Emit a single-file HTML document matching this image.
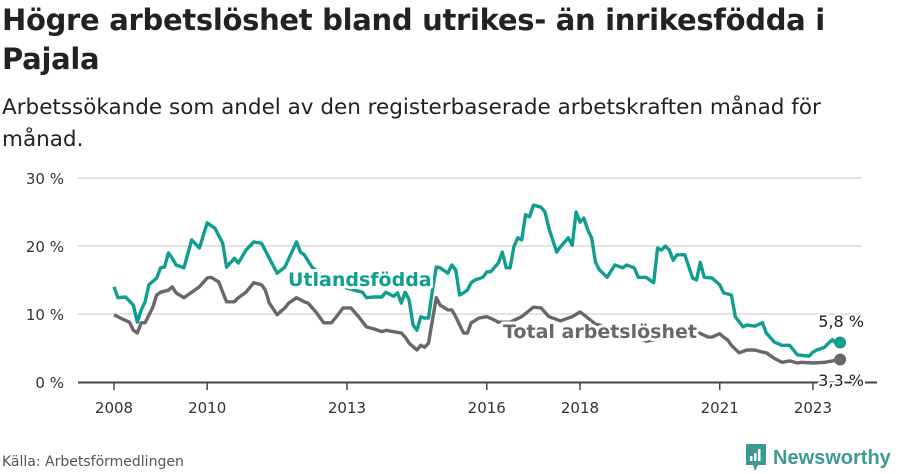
<!DOCTYPE html>
<html><head><meta charset="utf-8">
<style>
body{margin:0;width:900px;height:474px;background:#fff;overflow:hidden;font-family:"DejaVu Sans","Liberation Sans",sans-serif;color:#222}
.title{position:absolute;left:2px;top:1px;font-size:29px;font-weight:bold;line-height:39px;letter-spacing:-0.3px;width:860px}
.sub{position:absolute;left:2px;top:92px;font-size:21.5px;line-height:32px;width:835px;color:#222}
.src{position:absolute;left:2px;top:454px;font-size:14px;color:#555}
.logo{position:absolute;left:745px;top:443px;display:flex;align-items:center}
.logo span{font-size:20px;font-weight:bold;color:#3d9a93;margin-left:6px;font-family:"Liberation Sans",sans-serif}
svg{position:absolute;left:0;top:0}
</style></head><body>
<div class="title">Högre arbetslöshet bland utrikes- än inrikesfödda i Pajala</div>
<div class="sub">Arbetssökande som andel av den registerbaserade arbetskraften månad för månad.</div>
<svg id="chart" width="900" height="474"></svg>
<div class="src">Källa: Arbetsförmedlingen</div>
<div class="logo">
<svg width="22" height="30" style="position:static"><path d="M1 1h20v21h-8l-3 6-2-6H1z" fill="#3d9a93"/><rect x="5" y="13" width="2.5" height="5" fill="#fff"/><rect x="9" y="10" width="2.5" height="8" fill="#fff"/><rect x="13" y="6" width="2.5" height="12" fill="#fff"/></svg>
<span>Newsworthy</span></div>
<script>
const yTicks=[0,10,20,30];
const yTickLabels=["0 %","10 %","20 %","30 %"];
const xTickYears=[2008,2010,2013,2016,2018,2021,2023];
const foreignMonths=[0,1,3,5,6,7,8,9,11,12,13,14,15,16,18,20,22,24,26,28,29,31,32,34,36,38,40,42,44,47,48,49,51,54,57,60,64,65,67,69,70,72,73,74,75,76,77,78,79,80,81,82,83,84,86,87,88,89,90,91,92,93,95,96,97,99,100,101,102,103,104,105,106,107,108,110,111,112,114,115,117,118,119,120,121,122,123,124,125,127,129,131,132,134,135,137,139,140,141,142,143,144,145,147,149,150,151,152,154,156,157,159,160,162,163,165,167,168,170,172,174,176,179,180,181,183,184,185,186,187];
const foreignValues=[14.0,12.4,12.5,11.3,8.8,10.6,11.8,14.3,15.3,16.8,16.9,19.0,18.2,17.2,16.8,20.9,19.7,23.4,22.6,20.4,16.9,18.2,17.5,19.4,20.6,20.4,18.2,16.0,16.9,20.6,19.1,18.7,16.9,15.5,14.5,13.8,13.2,12.4,12.5,12.5,13.2,12.6,13.1,11.6,13.2,12.1,8.4,7.6,9.6,9.4,9.4,13.5,16.9,16.8,16.0,17.2,16.5,12.8,13.1,13.5,14.6,15.0,15.4,16.2,16.2,17.5,19.1,16.8,16.8,19.9,21.2,20.9,24.6,24.3,26.0,25.7,25.0,22.6,19.1,19.9,21.2,20.1,25.0,23.5,24.1,22.4,21.2,17.6,16.5,15.4,17.2,16.8,17.2,16.8,15.4,15.4,14.6,19.7,19.4,20.0,19.4,17.9,18.7,18.7,15.3,15.0,17.6,15.4,15.3,14.3,13.1,12.8,9.6,8.1,8.4,8.2,8.7,7.2,5.9,5.4,5.4,4.0,3.8,4.4,4.7,5.1,5.7,6.2,5.7,5.8];
const totalMonths=[0,2,4,5,6,7,8,10,11,12,14,15,16,18,19,20,22,24,25,27,28,29,31,32,34,36,38,39,40,42,44,45,47,49,50,52,54,56,57,59,61,63,65,67,69,70,72,74,75,76,78,79,80,81,83,84,86,87,88,90,91,92,94,96,98,99,102,105,108,110,112,115,118,120,121,124,128,133,137,142,146,150,153,154,156,157,158,159,161,163,165,167,168,170,172,174,176,177,180,183,185,187];
const totalValues=[9.9,9.3,8.8,7.6,7.2,8.7,8.7,11.0,12.8,13.2,13.5,14.0,13.1,12.4,12.8,13.2,14.0,15.3,15.4,14.7,13.2,11.8,11.8,12.4,13.2,14.6,14.3,13.5,11.6,9.9,10.9,11.6,12.4,11.8,11.6,10.3,8.7,8.7,9.4,10.9,10.9,9.6,8.1,7.8,7.4,7.6,7.4,7.2,6.6,5.7,4.7,5.4,5.1,5.7,12.4,11.3,10.6,10.6,9.6,7.2,7.2,8.7,9.4,9.6,9.1,8.8,8.8,9.6,11.0,10.9,9.6,9.0,9.6,10.3,9.9,8.5,8.0,7.0,6.0,6.5,7.2,7.4,6.6,6.6,7.1,6.6,6.2,5.4,4.3,4.7,4.7,4.4,4.3,3.5,2.9,3.1,2.8,2.9,2.8,2.9,3.1,3.3];

const NS="http://www.w3.org/2000/svg";
const svg=document.getElementById('chart');
const x=m=>114+m*3.883;
const xYear=y=>x((y-2008)*12);
const y=v=>382-v*6.8;
function mk(tag,attrs,parent){const e=document.createElementNS(NS,tag);for(const k in attrs)e.setAttribute(k,attrs[k]);(parent||svg).appendChild(e);return e;}

yTicks.forEach((t,i)=>{
  if(t>0){const g=mk('line',{x1:78,x2:862,y1:y(t),y2:y(t),stroke:'#dcdcdc','stroke-width':1.5});
  
  }
  const l=mk('text',{x:64,y:y(t)+6,'text-anchor':'end','font-size':15,fill:'#333','font-family':'DejaVu Sans, Liberation Sans, sans-serif'});
  l.textContent=yTickLabels[i];
  
  
});
const ax=mk('line',{x1:78,x2:877,y1:382.5,y2:382.5,stroke:'#444','stroke-width':2});


xTickYears.forEach(yr=>{
  const tk=mk('line',{x1:xYear(yr),x2:xYear(yr),y1:382,y2:390,stroke:'#444','stroke-width':1.5});
  
  
  const l=mk('text',{x:xYear(yr),y:413,'text-anchor':'middle','font-size':15,fill:'#333','font-family':'DejaVu Sans, Liberation Sans, sans-serif'});
  l.textContent=yr;
  
  
});
function line(ms,vs,color,name){
  const d=ms.map((m,i)=>(i?'L':'M')+x(m).toFixed(1)+' '+y(vs[i]).toFixed(1)).join(' ');
  const p=mk('path',{d:d,fill:'none',stroke:color,'stroke-width':3.4,'stroke-linejoin':'round'});
  
  
  const n=ms.length-1;
  const c=mk('circle',{cx:x(ms[n]),cy:y(vs[n]),r:6,fill:color});
  
  
}
line(totalMonths,totalValues,'#68676b','total-line');
line(foreignMonths,foreignValues,'#0f9e8f','foreign-born-line');
function lab(t,xx,yy,color,name,bold,anchor){
  const e=mk('text',{x:xx,y:yy,'font-size':bold?19:16,'font-weight':bold?'bold':'normal',fill:color,'text-anchor':anchor||'start',stroke:'#fff','stroke-width':bold?6:4,'paint-order':'stroke','stroke-linejoin':'round','font-family':'DejaVu Sans, Liberation Sans, sans-serif'});
  e.textContent=t;
  
  
}
lab('Utlandsfödda',288,286,'#0f9e8f','foreign-born-label',true);
lab('Total arbetslöshet',503,338,'#68676b','total-label',true);
lab('5,8 %',864,327,'#222','foreign-end-value',false,'end');
lab('3,3 %',864,386,'#222','total-end-value',false,'end');
</script>
</body></html>
